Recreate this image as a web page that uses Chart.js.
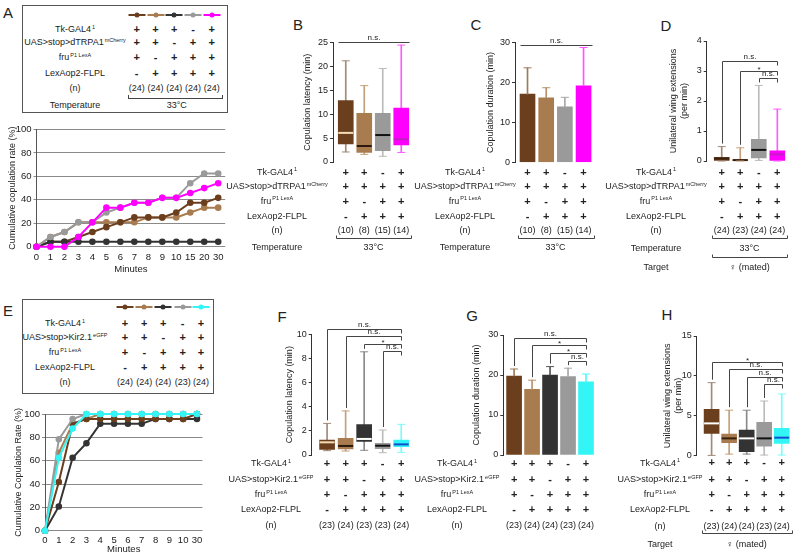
<!DOCTYPE html>
<html>
<head>
<meta charset="utf-8">
<script src="https://cdn.jsdelivr.net/npm/chart.js@4.4.1/dist/chart.umd.min.js"></script>
<style>
  body { margin: 0; background: #fff; }
  #page { position: relative; width: 800px; height: 556px; overflow: hidden; font-family: "Liberation Sans", Arial, sans-serif; color: #222; }
  canvas { position: absolute; }
  .t { position: absolute; white-space: nowrap; transform: translate(-50%, -50%); font-size: 9px; line-height: 1; }
  .t sup { font-size: 5.5px; vertical-align: 0; position: relative; top: -3px; margin-left: 1px; }
  .pm { font-weight: bold; font-size: 11px; }
  .big { font-size: 15px; }
  .box { position: absolute; border: 1px solid #555; }
  .brk { position: absolute; border: 1px solid #444; border-top: none; height: 3px; }
  .mk { position: absolute; height: 2px; width: 17px; transform: translate(-50%, -50%); }
  .dot { position: absolute; width: 5px; height: 5px; border-radius: 50%; transform: translate(-50%, -50%); }
</style>
</head>
<body>
<div id="page"></div>
<script>
// ---- data ----
const minutesA = ['0', '1', '2', '3', '4', '5', '6', '7', '8', '9', '10', '15', '20', '30'];
const rateA_brown = [0, 4.2, 4.2, 8.3, 12.5, 16.7, 20.8, 25, 25, 25, 29.2, 37.5, 37.5, 41.7];
const rateA_tan = [0, 8.3, 12.5, 20.8, 20.8, 20.8, 20.8, 20.8, 25, 25, 25, 29.2, 33.3, 33.3];
const rateA_black = [0, 4.2, 4.2, 4.2, 4.2, 4.2, 4.2, 4.2, 4.2, 4.2, 4.2, 4.2, 4.2, 4.2];
const rateA_gray = [0, 8.3, 12.5, 20.8, 20.8, 29.2, 33.3, 37.5, 37.5, 41.7, 41.7, 54.2, 62.5, 62.5];
const rateA_magenta = [0, 0, 0, 8.3, 20.8, 33.3, 33.3, 37.5, 37.5, 41.7, 41.7, 45.8, 50, 54.2];

const minutesE = ['0', '1', '2', '3', '4', '5', '6', '7', '8', '9', '10', '30'];
const rateE_brown = [0, 41.7, 91.7, 95.8, 95.8, 95.8, 95.8, 95.8, 95.8, 95.8, 95.8, 100];
const rateE_tan = [0, 66.7, 91.7, 95.8, 100, 100, 100, 100, 100, 100, 100, 100];
const rateE_black = [0, 20.8, 62.5, 75, 91.7, 91.7, 91.7, 91.7, 95.8, 95.8, 95.8, 95.8];
const rateE_gray = [0, 78.3, 95.7, 100, 100, 100, 100, 100, 100, 100, 100, 100];
const rateE_cyan = [0, 62.5, 87.5, 100, 100, 100, 100, 100, 100, 100, 100, 100];

// genotypes (5 groups: A, E, F, G, H)
const tk5 = ['+', '+', '+', '-', '+'];
const uas5 = ['+', '+', '-', '+', '+'];
const fru5 = ['+', '-', '+', '+', '+'];
const lex5 = ['-', '+', '+', '+', '+'];
// genotypes (4 groups: B, C, D)
const tk4 = ['+', '+', '-', '+'];
const uas4 = ['+', '+', '+', '+'];
const fru4 = ['+', '-', '+', '+'];
const lex4 = ['-', '+', '+', '+'];

const nA = ['(24)', '(24)', '(24)', '(24)', '(24)'];
const nB = ['(10)', '(8)', '(15)', '(14)'];
const nC = ['(10)', '(8)', '(15)', '(14)'];
const nD = ['(24)', '(23)', '(24)', '(24)'];
const nE = ['(24)', '(24)', '(24)', '(23)', '(24)'];
const nF = ['(23)', '(24)', '(23)', '(23)', '(24)'];
const nG = ['(23)', '(24)', '(24)', '(23)', '(24)'];
const nH = ['(23)', '(24)', '(24)', '(23)', '(24)'];

// B: copulation latency (min)
const latB_min = [2.1, 1.6, 1.2, 2.0];
const latB_q1 = [3.8, 2.0, 2.4, 3.6];
const latB_med = [6.1, 3.35, 5.65, 4.75];
const latB_q3 = [12.85, 10.2, 10.2, 11.3];
const latB_max = [21.2, 16.0, 19.6, 24.5];
// C: copulation duration (min), mean + SEM
const durC_mean = [17.1, 16.2, 13.9, 19.2];
const durC_sem = [6.6, 2.5, 2.4, 9.6];
// D: unilateral wing extensions (per min)
const wingD_min = [0, 0, 0.02, 0];
const wingD_q1 = [0.02, 0.01, 0.1, 0.02];
const wingD_med = [0.08, 0.03, 0.37, 0.22];
const wingD_q3 = [0.12, 0.05, 0.72, 0.34];
const wingD_max = [0.48, 0.44, 2.52, 1.73];
// F: copulation latency (min)
const latF_min = [0.36, 0.33, 0.39, 0.19, 0.22];
const latF_q1 = [0.47, 0.5, 1.13, 0.52, 0.69];
const latF_med = [1.05, 0.75, 1.33, 0.77, 0.88];
const latF_q3 = [1.24, 1.38, 2.51, 0.97, 1.24];
const latF_max = [2.62, 3.65, 8.55, 2.07, 2.54];
// G: copulation duration (min), mean + SEM
const durG_mean = [19.75, 16.4, 20.0, 19.6, 18.3];
const durG_sem = [1.75, 2.3, 2.1, 2.1, 1.95];
// H: unilateral wing extensions (per min)
const wingH_min = [0.04, 0.2, 0.2, 0.08, 0.08];
const wingH_q1 = [2.8, 1.63, 0.5, 1.2, 1.55];
const wingH_med = [4.05, 2.17, 2.17, 2.17, 2.26];
const wingH_q3 = [5.8, 2.7, 3.2, 4.18, 3.43];
const wingH_max = [9.15, 5.7, 5.7, 6.85, 7.73];

// significance marks (group indexes, height in axis units)
const sigB = [{ from: 0, to: 3, y: 25.1, text: 'n.s.', flat: true }];
const sigC = [{ from: 0, to: 3, y: 29.4, text: 'n.s.', flat: true }];
const sigD = [
  { from: 0, to: 3, y: 3.33, text: 'n.s.' },
  { from: 1, to: 3, y: 3.01, text: '*' },
  { from: 2, to: 3, y: 2.78, text: 'n.s.' }
];
const sigF = [
  { from: 0, to: 4, y: 10.41, text: 'n.s.' },
  { from: 1, to: 4, y: 9.86, text: 'n.s.' },
  { from: 2, to: 4, y: 9.17, text: '*' },
  { from: 3, to: 4, y: 8.62, text: 'n.s.' }
];
const sigG = [
  { from: 0, to: 4, y: 29.3, text: 'n.s.' },
  { from: 1, to: 4, y: 27.5, text: '*' },
  { from: 2, to: 4, y: 25.4, text: '*' },
  { from: 3, to: 4, y: 23.5, text: 'n.s.' }
];
const sigH = [
  { from: 0, to: 4, y: 11.78, text: '*' },
  { from: 1, to: 4, y: 10.83, text: 'n.s.' },
  { from: 2, to: 4, y: 9.9, text: 'n.s.' },
  { from: 3, to: 4, y: 8.98, text: 'n.s.' }
];

// ---- styles ----
const brown = '#6B3E1E', tan = '#A97C50', black = '#333333', gray = '#9A9A9A', magenta = '#FF00FF', cyan = '#33F5F5';
const FONT = '"Liberation Sans", Arial, sans-serif';

const labTk = ['Tk-GAL4', '1'];
const labTrpa = ['UAS>stop>dTRPA1', 'mCherry'];
const labKir = ['UAS>stop>Kir2.1', 'eGFP'];
const labFru = ['fru', 'P1 LexA'];
const labLex = ['LexAop2-FLPL', ''];
const labN = ['(n)', ''];
const labTemp = ['Temperature', ''];
const labTarget = ['Target', ''];

Chart.defaults.font.family = FONT;
Chart.defaults.font.size = 9;
Chart.defaults.color = '#222';
Chart.defaults.animation = false;
Chart.defaults.events = [];
Chart.defaults.plugins.legend.display = false;
Chart.defaults.plugins.tooltip.enabled = false;

const page = document.getElementById('page');

function put(x, y, html, cls) {
  const d = document.createElement('div');
  d.className = 't' + (cls ? ' ' + cls : '');
  d.style.left = x + 'px';
  d.style.top = y + 'px';
  d.innerHTML = html;
  page.appendChild(d);
}
function lab(l) {
  const esc = s => s.replace(/>/g, '&gt;');
  return l[1] ? esc(l[0]) + '<sup>' + l[1] + '</sup>' : esc(l[0]);
}
function canvasAt(left, top, w, h) {
  const c = document.createElement('canvas');
  c.width = w; c.height = h;
  c.style.left = left + 'px'; c.style.top = top + 'px';
  page.appendChild(c);
  return c;
}
function div(cls, left, top, w, h, color) {
  const d = document.createElement('div');
  d.className = cls;
  d.style.left = left + 'px'; d.style.top = top + 'px';
  if (w != null) d.style.width = w + 'px';
  if (h != null) d.style.height = h + 'px';
  if (color) d.style.background = color;
  page.appendChild(d);
}

// inset genotype tables for A and E
function inset(cfg) {
  div('box', cfg.box[0], cfg.box[1], cfg.box[2], cfg.box[3]);
  cfg.colors.forEach((c, i) => {
    div('mk', cfg.cols[i], cfg.legendY, null, null, c);
    div('dot', cfg.cols[i], cfg.legendY, null, null, c);
  });
  cfg.rows.forEach(r => {
    put(cfg.labelX, r.y, lab(r.label));
    if (r.vals) r.vals.forEach((v, i) => put(cfg.cols[i], r.y, v, v.length === 1 ? 'pm' : ''));
  });
}

// genotype table + significance drawn under/over a chart using its scales
function tablePlugin(cfg) {
  return {
    id: 'geno',
    afterDraw(chart) {
      const ctx = chart.ctx, xs = chart.scales.x, ys = chart.scales.y;
      const n = cfg.rows[0].vals.length;
      const xFirst = xs.getPixelForValue(0), xLast = xs.getPixelForValue(n - 1);
      ctx.save();
      ctx.fillStyle = '#222';
      ctx.strokeStyle = '#444';
      ctx.lineWidth = 1;
      ctx.textBaseline = 'middle';
      cfg.rows.forEach(r => {
        if (r.label) {
          ctx.font = '9px ' + FONT;
          const w1 = ctx.measureText(r.label[0]).width;
          ctx.font = '5.5px ' + FONT;
          const w2 = r.label[1] ? ctx.measureText(r.label[1]).width + 1 : 0;
          const x0 = (r.lx || cfg.labelX) - (w1 + w2) / 2;
          ctx.textAlign = 'left';
          ctx.font = '9px ' + FONT;
          ctx.fillText(r.label[0], x0, r.y);
          if (r.label[1]) {
            ctx.font = '5.5px ' + FONT;
            ctx.fillText(r.label[1], x0 + w1 + 1, r.y - 3);
          }
        }
        ctx.textAlign = 'center';
        if (r.vals) {
          r.vals.forEach((v, i) => {
            ctx.font = v.length === 1 ? 'bold 11px ' + FONT : '9px ' + FONT;
            ctx.fillText(v, xs.getPixelForValue(i), r.y);
          });
        }
        if (r.span) {
          ctx.font = '9px ' + FONT;
          ctx.fillText(r.span, (xFirst + xLast) / 2, r.y);
        }
        if (r.bracket) {
          const a = Math.round(xFirst - 10) + 0.5, b = Math.round(xLast + 10) + 0.5, yy = Math.round(r.y) + 0.5;
          ctx.beginPath();
          ctx.moveTo(a, yy - 3); ctx.lineTo(a, yy); ctx.lineTo(b, yy); ctx.lineTo(b, yy - 3);
          ctx.stroke();
        }
      });
      (cfg.sig || []).forEach(s => {
        const yy = Math.round(ys.getPixelForValue(s.y)) + 0.5;
        const xa = Math.round(xs.getPixelForValue(s.from)) + 0.5, xb = Math.round(xs.getPixelForValue(s.to)) + 0.5;
        ctx.beginPath();
        if (s.flat) {
          ctx.moveTo(xa - 8, yy); ctx.lineTo(xb + 8, yy);
        } else {
          const yLeg = ys.getPixelForValue(cfg.tops[s.from]) - 3;
          ctx.moveTo(xa, yLeg); ctx.lineTo(xa, yy); ctx.lineTo(xb, yy); ctx.lineTo(xb, yy + 4);
        }
        ctx.stroke();
        ctx.font = '8px ' + FONT;
        ctx.textAlign = 'center';
        ctx.textBaseline = 'bottom';
        ctx.fillText(s.text, (xa + xb) / 2, yy - (s.text === '*' ? -2 : 0.5));
      });
      ctx.restore();
    }
  };
}

function yAxis(cfg) {
  return {
    min: 0, max: cfg.max,
    ticks: { stepSize: cfg.step, padding: 2, font: { size: 9 }, color: '#222' },
    grid: { drawOnChartArea: false, tickLength: 3, color: '#333' },
    border: { color: '#333' },
    title: { display: true, text: cfg.title, font: { size: 9 }, padding: 0, color: '#222' },
    afterFit: s => { s.width = cfg.yW; }
  };
}

function boxChart(canvas, d, cfg) {
  const idx = d.med.map((_, i) => i);
  new Chart(canvas, {
    type: 'bar',
    data: {
      datasets: [
        { type: 'bar', data: idx.map(i => ({ x: i, y: [d.min[i], d.max[i]] })), backgroundColor: d.wcol, barThickness: 1, grouped: false, order: 3 },
        { type: 'bar', data: idx.map(i => ({ x: i, y: [d.q1[i], d.q3[i]] })), backgroundColor: d.col, barThickness: 15, grouped: false, order: 2 },
        { type: 'line', showLine: false, clip: false, data: idx.map(i => ({ x: i, y: d.med[i] })), pointStyle: 'line', pointRadius: 7.5, pointBorderWidth: 2, pointBorderColor: d.mcol, order: 1 },
        { type: 'line', showLine: false, clip: false, data: idx.map(i => ({ x: i, y: d.max[i] })).concat(idx.map(i => ({ x: i, y: d.min[i] }))), pointStyle: 'line', pointRadius: 4, pointBorderWidth: 1, pointBorderColor: d.wcol.concat(d.wcol), order: 0 }
      ]
    },
    options: {
      responsive: false,
      layout: { padding: cfg.pad },
      scales: {
        x: { type: 'linear', display: false, offset: false, min: cfg.xmin, max: cfg.xmax },
        y: yAxis(cfg)
      }
    },
    plugins: [tablePlugin(cfg.table)]
  });
}

function barChart(canvas, d, cfg) {
  const idx = d.mean.map((_, i) => i);
  new Chart(canvas, {
    type: 'bar',
    data: {
      datasets: [
        { type: 'bar', data: idx.map(i => ({ x: i, y: d.mean[i] })), backgroundColor: d.col, barThickness: 15, grouped: false, order: 2 },
        { type: 'bar', data: idx.map(i => ({ x: i, y: [d.mean[i], d.mean[i] + d.sem[i]] })), backgroundColor: d.ecol, barThickness: 1, grouped: false, order: 1 },
        { type: 'line', showLine: false, clip: false, data: idx.map(i => ({ x: i, y: d.mean[i] + d.sem[i] })), pointStyle: 'line', pointRadius: 4, pointBorderWidth: 1, pointBorderColor: d.ecol, order: 0 }
      ]
    },
    options: {
      responsive: false,
      layout: { padding: cfg.pad },
      scales: {
        x: { type: 'linear', display: false, offset: false, min: cfg.xmin, max: cfg.xmax },
        y: yAxis(cfg)
      }
    },
    plugins: [tablePlugin(cfg.table)]
  });
}

function lineChart(canvas, labels, series, cfg) {
  new Chart(canvas, {
    type: 'line',
    data: {
      datasets: series.map(s => ({
        data: s.data.map((v, i) => ({ x: i, y: v })),
        borderColor: s.color, backgroundColor: s.color,
        pointBackgroundColor: s.color, pointBorderColor: s.color,
        borderWidth: 2, pointRadius: 2.3, tension: 0, clip: false, order: s.order
      }))
    },
    options: {
      responsive: false,
      layout: { padding: cfg.pad },
      scales: {
        x: {
          type: 'linear', min: 0, max: cfg.xmax,
          grid: { display: false, drawTicks: false }, border: { display: false },
          afterBuildTicks: s => { s.ticks = labels.map((_, i) => ({ value: i })); },
          ticks: { autoSkip: false, maxRotation: 0, padding: cfg.tickPad, font: { size: 9.5 }, color: '#222',
                   callback: v => labels[v] },
          title: { display: true, text: 'Minutes', font: { size: 9.5 }, color: '#222', padding: { top: 0, bottom: cfg.titlePad } },
          afterFit: s => { s.height = cfg.xH; }
        },
        y: {
          min: 0, max: 100,
          ticks: { stepSize: 20, padding: 2, font: { size: 9.5 }, color: '#222' },
          grid: { color: '#8a8a8a', tickLength: 3 },
          border: { color: '#555' },
          title: { display: true, text: cfg.yTitle, font: { size: 9 }, color: '#222', padding: 0 },
          afterFit: s => { s.width = cfg.yW; }
        }
      }
    }
  });
}

// ---- panel letters ----
put(8, 12, 'A', 'big'); put(298, 24, 'B', 'big'); put(476, 24, 'C', 'big'); put(666, 25, 'D', 'big');
put(8, 310, 'E', 'big'); put(282, 316, 'F', 'big'); put(472, 315, 'G', 'big'); put(667, 314, 'H', 'big');

// ---- A ----
inset({
  box: [22, 5, 204, 106], legendY: 15, labelX: 75,
  cols: [136.7, 155.5, 174.3, 193, 211.7],
  colors: [brown, tan, black, gray, magenta],
  rows: [
    { label: labTk, vals: tk5, y: 29 },
    { label: labTrpa, vals: uas5, y: 42.3 },
    { label: labFru, vals: fru5, y: 57.3 },
    { label: labLex, vals: lex5, y: 72.7 },
    { label: labN, vals: nA, y: 88.3 },
    { label: labTemp, y: 105 }
  ]
});
div('brk', 128, 94.7, 93);
put(176.7, 105, '33°C');

lineChart(canvasAt(0, 115, 235, 165), minutesA, [
  { data: rateA_brown, color: brown, order: 3 },
  { data: rateA_tan, color: tan, order: 4 },
  { data: rateA_black, color: black, order: 2 },
  { data: rateA_gray, color: gray, order: 1 },
  { data: rateA_magenta, color: magenta, order: 0 }
], { pad: { left: 7, right: 9.8, top: 14.5, bottom: 0 }, yW: 29.5, xH: 33.3, xmax: 13.5, tickPad: 5, titlePad: 5,
     yTitle: 'Cumulative copulation rate (%)' });

// ---- E ----
inset({
  box: [22, 299, 190, 93], legendY: 307.3, labelX: 65,
  cols: [125, 144.3, 163.3, 182.7, 201],
  colors: [brown, tan, black, gray, cyan],
  rows: [
    { label: labTk, vals: tk5, y: 323.3 },
    { label: labKir, vals: uas5, y: 337.3 },
    { label: labFru, vals: fru5, y: 352 },
    { label: labLex, vals: lex5, y: 367 },
    { label: labN, vals: nE, y: 382 }
  ]
});

lineChart(canvasAt(0, 395, 215, 161), minutesE, [
  { data: rateE_brown, color: brown, order: 2 },
  { data: rateE_tan, color: tan, order: 4 },
  { data: rateE_black, color: black, order: 3 },
  { data: rateE_gray, color: gray, order: 1 },
  { data: rateE_cyan, color: cyan, order: 0 }
], { pad: { left: 13, right: 12.5, top: 19, bottom: 0 }, yW: 32, xH: 25.3, xmax: 11.4, tickPad: 4, titlePad: 1,
     yTitle: 'Cumulative Copulation Rate (%)' });

// ---- B ----
const rows4 = (n, ys) => [
  { label: labTk, vals: tk4, y: ys[0] },
  { label: labTrpa, vals: uas4, y: ys[1] },
  { label: labFru, vals: fru4, y: ys[2] },
  { label: labLex, vals: lex4, y: ys[3] },
  { label: labN, vals: n, y: ys[4] },
  { bracket: true, y: ys[5] },
  { label: labTemp, span: '33°C', y: ys[6] }
];
boxChart(canvasAt(220, 0, 200, 280), {
  min: latB_min, q1: latB_q1, med: latB_med, q3: latB_q3, max: latB_max,
  col: [brown, tan, gray, magenta],
  wcol: ['#A08A78', '#C4A07C', '#BBBBBB', '#FF5CFF'],
  mcol: ['#F3DDB8', '#2A1A0E', '#111111', '#C020C0']
}, {
  pad: { left: 82, right: 8.4, top: 42.7, bottom: 118 }, yW: 31, max: 25, step: 5,
  title: 'Copulation latency (min)', xmin: -0.69, xmax: 3.5,
  table: { labelX: 57, rows: rows4(nB, [172.7, 187, 201.7, 217, 230.5, 238, 248]), sig: sigB, tops: latB_max }
});

// ---- C ----
barChart(canvasAt(400, 0, 200, 280), {
  mean: durC_mean, sem: durC_sem,
  col: [brown, tan, gray, magenta],
  ecol: ['#9C7A5A', '#B8926A', '#A8A8A8', '#FF55FF']
}, {
  pad: { left: 84.7, right: 7.1, top: 42.7, bottom: 117.7 }, yW: 30.3, max: 30, step: 10,
  title: 'Copulation duration (min)', xmin: -0.67, xmax: 3.5,
  table: { labelX: 65, rows: rows4(nC, [172.7, 187, 201.7, 217, 230.5, 238, 248]), sig: sigC }
});

// ---- D ----
const rowsD = rows4(nD, [172.7, 187, 201.7, 216.7, 230.7, 238, 249]);
rowsD.push({ bracket: true, y: 256.7 }, { label: labTarget, span: '♀ (mated)', y: 267.7 });
boxChart(canvasAt(600, 0, 200, 280), {
  min: wingD_min, q1: wingD_q1, med: wingD_med, q3: wingD_q3, max: wingD_max,
  col: [brown, tan, gray, magenta],
  wcol: ['#A08A78', '#C4A07C', '#BBBBBB', '#FF5CFF'],
  mcol: ['#3A200E', '#3A200E', '#111111', '#C020C0']
}, {
  pad: { left: 68, right: 13.4, top: 41, bottom: 119 }, yW: 38.7, max: 4, step: 1,
  title: ['Unilateral wing extensions', '(per min)'], xmin: -0.81, xmax: 3.5,
  table: { labelX: 56, rows: rowsD, sig: sigD, tops: wingD_max }
});

// ---- F, G, H ----
const rows5 = (n, ys) => [
  { label: labTk, vals: tk5, y: ys[0] },
  { label: labKir, vals: uas5, y: ys[1] },
  { label: labFru, vals: fru5, y: ys[2] },
  { label: labLex, vals: lex5, y: ys[3] },
  { label: labN, vals: n, y: ys[4] }
];
const fiveCol = [brown, tan, black, gray, cyan];

boxChart(canvasAt(220, 300, 200, 256), {
  min: latF_min, q1: latF_q1, med: latF_med, q3: latF_q3, max: latF_max,
  col: fiveCol,
  wcol: ['#A08A78', '#C4A07C', '#8A8A8A', '#BBBBBB', '#7DFBFB'],
  mcol: ['#F3DDB8', '#2A1A0E', '#FFFFFF', '#111111', '#1050D0']
}, {
  pad: { left: 64, right: 8.4, top: 34.3, bottom: 101 }, yW: 27.7, max: 10, step: 2,
  title: 'Copulation latency (min)', xmin: -0.83, xmax: 4.5,
  table: { labelX: 51, rows: rows5(nF, [164, 180, 195, 210, 226]), sig: sigF, tops: latF_max }
});

barChart(canvasAt(400, 300, 200, 256), {
  mean: durG_mean, sem: durG_sem,
  col: fiveCol,
  ecol: ['#9C7A5A', '#B8926A', '#555555', '#A8A8A8', '#55F8F8']
}, {
  pad: { left: 70.7, right: 1.3, top: 35, bottom: 101 }, yW: 32.6, max: 30, step: 10,
  title: 'Copulation duration (min)', xmin: -0.6, xmax: 4.5,
  table: { labelX: 57, rows: rows5(nG, [164, 180, 195, 210, 226]), sig: sigG,
           tops: durG_mean.map((m, i) => m + durG_sem[i]) }
});

const rowsH = rows5(nH, [163.3, 180, 195, 210, 226.7]);
rowsH.push({ bracket: true, y: 233.3 }, { label: labTarget, span: '♀ (mated)', y: 245 });
boxChart(canvasAt(600, 300, 200, 256), {
  min: wingH_min, q1: wingH_q1, med: wingH_med, q3: wingH_q3, max: wingH_max,
  col: fiveCol,
  wcol: ['#A08A78', '#C4A07C', '#8A8A8A', '#BBBBBB', '#7DFBFB'],
  mcol: ['#FFFFFF', '#3A200E', '#FFFFFF', '#111111', '#1050D0']
}, {
  pad: { left: 62, right: 2.2, top: 36, bottom: 100.3 }, yW: 34.7, max: 15, step: 5,
  title: ['Unilateral wing extensions', '(per min)'], xmin: -0.85, xmax: 4.5,
  table: { labelX: 60, rows: rowsH, sig: sigH, tops: wingH_max }
});
</script>
</body>
</html>
